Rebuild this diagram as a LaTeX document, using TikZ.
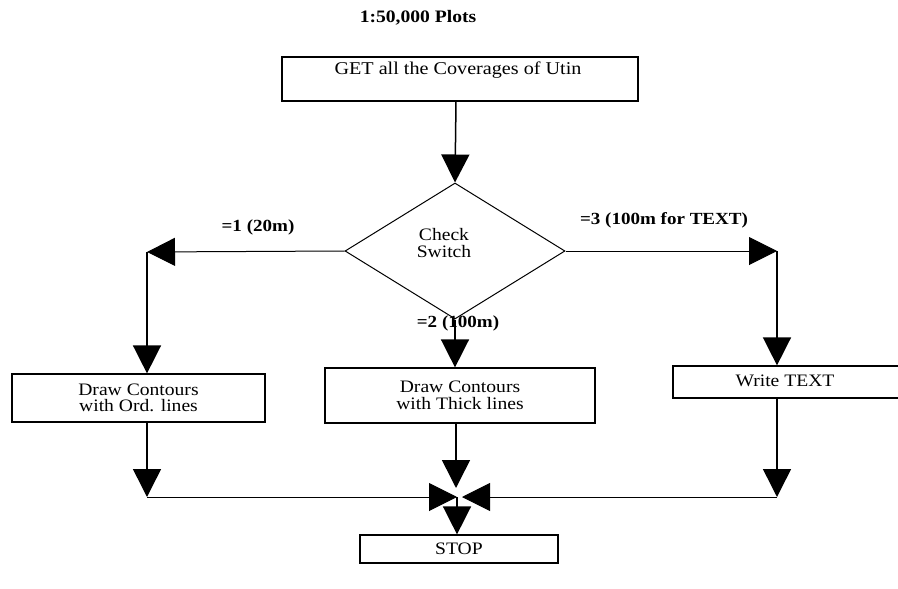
\documentclass[tikz,border=0pt]{standalone}
\usepackage{fontspec}
\setmainfont{Liberation Serif}[FakeStretch=1.12]
\usetikzlibrary{arrows.meta,shapes.geometric}
\begin{document}
\begin{tikzpicture}[x=1pt,y=-1pt,
  txt/.style={font=\fontsize{17.5}{16.5}\selectfont, align=center, inner sep=0pt},
  lbl/.style={font=\bfseries\fontsize{17}{17}\selectfont, inner sep=0pt},
  box/.style={draw, line width=1.2pt, inner sep=0pt},
  arr/.style={-{Triangle[width=28pt,length=28pt]}, line width=1.5pt},
  hline/.style={line width=1pt}]
\clip (0,0) rectangle (898,589);
\fill[white] (0,0) rectangle (898,589);

% title
\node[lbl, font=\bfseries\fontsize{17.5}{18}\selectfont] (title) at (418,18) {1:50,000 Plots};

% GET box
\node[box, minimum width=356pt, minimum height=44pt] (get) at (460,79) {};
\node[txt, font=\fontsize{18}{18}\selectfont] (gett) at (458,70) {GET all the Coverages of Utin};

% decision
\node[draw, diamond, line width=1pt, minimum width=220pt, minimum height=136pt, aspect=1.62, inner sep=0pt] (sw) at (455,251) {};
\node[txt] (swt) at (444,243) {Check\\Switch};

% boxes
\node[box, txt, minimum width=253pt, minimum height=48pt] (b1) at (138.5,398) {Draw Contours\\with Ord. lines};
\node[box, txt, minimum width=270pt, minimum height=55pt] (b2) at (460,395.5) {Draw Contours\\with Thick lines};
\node[box, minimum width=250pt, minimum height=32pt] (b3) at (798,382) {};
\node[txt] (b3t) at (785,381) {Write TEXT};
\node[box, txt, minimum width=198pt, minimum height=28pt] (stop) at (459,549) {STOP};

% coordinates
\coordinate (lc) at (147,252);
\coordinate (rc) at (777,251);
\coordinate (lb) at (147,497);
\coordinate (rb) at (777,497);
\coordinate (c) at (457,497);
\coordinate (cl) at (457,497);
\coordinate (cr) at (462,497);
\coordinate (cm) at (456,488);

% labels
\node[lbl] (l1) at (258,227) {=1 (20m)};
\node[lbl] (l3) at (664,220) {=3 (100m for TEXT)};
\node[lbl] (l2) at (458,323) {=2 (100m)};

% connectors
\draw[arr] (get.south -| 456,0) -- (sw.north);
\draw[arr, hline] (sw.west) -- (lc);
\draw[arr] (lc) -- (b1.north -| lc);
\draw[arr, hline] (sw.east) -- (rc);
\draw[arr] (rc) -- (b3.north -| rc);
\draw[arr] (sw.south) -- (b2.north -| sw.south);
\draw[arr] (b1.south -| lb) -- (lb);
\draw[arr, hline] (lb) -- (cl);
\draw[arr] (b3.south -| rb) -- (rb);
\draw[arr, hline] (rb) -- (cr);
\draw[arr] (b2.south -| cm) -- (cm);
\draw[arr] (c) -- (stop.north -| c);
\end{tikzpicture}
\end{document}
